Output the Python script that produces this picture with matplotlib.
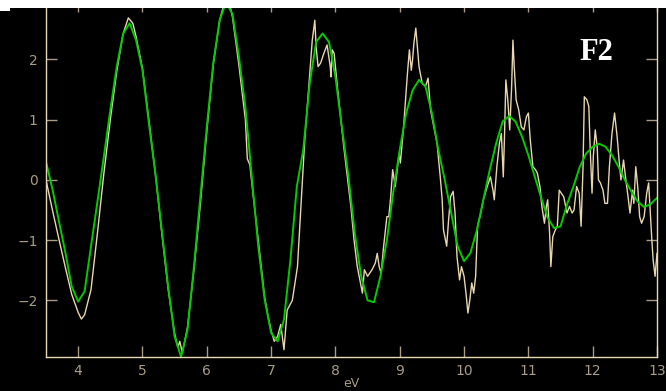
import numpy as np
import matplotlib
matplotlib.use("Agg")
import matplotlib.pyplot as plt
from matplotlib.patches import Rectangle

# fitted curve (green), read every 0.1 eV
fit_ev = np.round(np.arange(3.5, 13.01, 0.1), 2)
fit_val = [
    0.30, -0.15, -0.68, -1.20, -1.77, -2.02, -1.85, -1.10, -0.36, 0.39,
    1.16, 1.88, 2.43, 2.60, 2.32, 1.82, 0.94, 0.11, -0.83, -1.77,
    -2.60, -2.94, -2.49, -1.44, -0.28, 0.88, 1.94, 2.65, 2.95, 2.75,
    2.04, 1.21, 0.05, -1.10, -1.99, -2.54, -2.68, -2.32, -1.33, -0.11,
    0.50, 1.60, 2.29, 2.43, 2.29, 1.71, 0.88, 0.08, -0.88, -1.60,
    -2.00, -2.03, -1.60, -1.00, -0.20, 0.50, 1.11, 1.49, 1.66, 1.55,
    1.11, 0.50, 0.00, -0.55, -1.10, -1.35, -1.21, -0.83, -0.33, 0.17,
    0.61, 0.97, 1.06, 0.97, 0.72, 0.41, 0.05, -0.30, -0.63, -0.80,
    -0.77, -0.41, -0.11, 0.22, 0.44, 0.55, 0.60, 0.55, 0.41, 0.22,
    0.00, -0.19, -0.36, -0.45, -0.40, -0.30,
]

# measured data (tan)
data_ev = [
    3.50, 3.60, 3.70, 3.80, 3.90, 4.00, 4.05, 4.10, 4.20, 4.30,
    4.40, 4.50, 4.60, 4.70, 4.78, 4.85, 4.90, 5.00, 5.10, 5.20,
    5.30, 5.40, 5.50, 5.55, 5.58, 5.62, 5.70, 5.80, 5.90, 6.00,
    6.10, 6.20, 6.25, 6.30, 6.35, 6.40, 6.50, 6.60, 6.63, 6.67,
    6.70, 6.80, 6.90, 6.95, 7.00, 7.05, 7.10, 7.15, 7.20, 7.25,
    7.33, 7.41, 7.46, 7.52, 7.59, 7.64, 7.68, 7.70, 7.73, 7.77,
    7.82, 7.87, 7.92, 7.93, 7.95, 7.98, 8.03, 8.13, 8.24, 8.29,
    8.34, 8.42, 8.45, 8.50, 8.57, 8.62, 8.65, 8.68, 8.71, 8.75,
    8.80, 8.83, 8.86, 8.89, 8.93, 8.99, 9.01, 9.06, 9.12, 9.15,
    9.18, 9.20, 9.22, 9.25, 9.27, 9.30, 9.35, 9.40, 9.44, 9.48,
    9.53, 9.58, 9.63, 9.66, 9.68, 9.73, 9.76, 9.79, 9.83, 9.86,
    9.89, 9.93, 9.96, 10.00, 10.03, 10.06, 10.09, 10.12, 10.15, 10.18,
    10.21, 10.25, 10.30, 10.36, 10.41, 10.45, 10.47, 10.51, 10.55, 10.58,
    10.61, 10.63, 10.65, 10.68, 10.71, 10.74, 10.76, 10.78, 10.81, 10.85,
    10.89, 10.93, 10.97, 11.00, 11.03, 11.07, 11.11, 11.14, 11.18, 11.21,
    11.25, 11.28, 11.30, 11.33, 11.35, 11.38, 11.42, 11.45, 11.48, 11.55,
    11.60, 11.64, 11.68, 11.71, 11.75, 11.79, 11.82, 11.85, 11.87, 11.91,
    11.94, 11.96, 11.99, 12.01, 12.04, 12.07, 12.09, 12.12, 12.16, 12.19,
    12.23, 12.26, 12.30, 12.34, 12.38, 12.41, 12.44, 12.48, 12.51, 12.55,
    12.58, 12.62, 12.64, 12.67, 12.70, 12.73, 12.76, 12.80, 12.84, 12.87,
    12.89, 12.92, 12.94, 12.97, 13.00,
]
data_val = [
    0.00, -0.50, -0.98, -1.45, -1.90, -2.20, -2.31, -2.24, -1.82, -0.88,
    0.11, 1.00, 1.80, 2.43, 2.69, 2.60, 2.38, 1.85, 0.99, 0.11,
    -0.88, -1.82, -2.55, -2.78, -2.68, -2.87, -2.45, -1.50, -0.40, 0.80,
    1.90, 2.65, 2.85, 2.97, 2.95, 2.70, 1.90, 1.00, 0.35, 0.25,
    -0.05, -1.00, -1.95, -2.25, -2.50, -2.68, -2.60, -2.40, -2.82, -2.16,
    -2.00, -1.44, -0.50, 0.61, 1.60, 2.32, 2.65, 2.21, 1.88, 1.94,
    2.10, 2.24, 1.88, 1.71, 2.16, 2.10, 1.55, 0.55, -0.44, -1.00,
    -1.44, -1.88, -1.49, -1.60, -1.49, -1.38, -1.22, -1.44, -1.55, -1.10,
    -0.61, -0.61, -0.28, 0.17, -0.11, 0.44, 0.28, 0.88, 1.77, 2.16,
    1.82, 2.00, 2.27, 2.52, 2.27, 1.88, 1.60, 1.55, 1.69, 1.16,
    0.88, 0.61, 0.05, -0.33, -0.83, -1.10, -0.66, -0.28, -0.19, -0.55,
    -1.27, -1.66, -1.44, -1.60, -1.88, -2.21, -1.99, -1.71, -1.88, -1.60,
    -0.77, -0.60, -0.33, -0.11, 0.05, -0.17, -0.33, 0.22, 0.61, 0.77,
    0.05, 0.77, 1.66, 1.33, 0.83, 1.55, 2.32, 1.88, 1.33, 1.16,
    0.88, 0.83, 1.05, 1.11, 0.66, 0.22, 0.17, 0.11, -0.11, -0.44,
    -0.72, -0.44, -0.33, -0.88, -1.44, -0.94, -0.83, -0.77, -0.17, -0.28,
    -0.55, -0.44, -0.55, -0.50, -0.11, -0.22, -0.77, 0.22, 1.38, 1.33,
    1.22, 0.55, -0.22, 0.39, 0.83, 0.55, 0.00, -0.05, -0.17, -0.39,
    -0.39, 0.22, 0.77, 1.11, 0.72, 0.33, 0.00, 0.33, 0.05, -0.28,
    -0.55, -0.17, -0.39, 0.22, -0.11, -0.61, -0.72, -0.61, -0.22, -0.05,
    -0.44, -1.00, -1.33, -1.60, -1.22,
]

x_ticks = [4, 5, 6, 7, 8, 9, 10, 11, 12, 13]
y_ticks = [-2, -1, 0, 1, 2]

W, H = 666, 391
fig = plt.figure(figsize=(W / 100, H / 100), dpi=100, facecolor='black')
ax = fig.add_axes([46 / W, 34 / H, (657 - 46) / W, (390 - 34) / H])
ax.set_facecolor('black')

ax.plot(data_ev, data_val, color='#e8d6ae', lw=1.0)
ax.plot(fit_ev, fit_val, color='#00cc00', lw=1.4)

ax.set_xlim(3.5, 13.0)
ax.set_ylim(-2.94, 2.97)
ax.set_xticks(x_ticks)
ax.set_yticks(y_ticks)

for side in ['left', 'bottom', 'right', 'top']:
    ax.spines[side].set_color('#e8d8b8')
    ax.spines[side].set_linewidth(1.0)
ax.spines['top'].set_visible(False)

ax.tick_params(direction='in', length=8, width=1.0, color='#a89c86',
               labelcolor='#a89c86', labelsize=10,
               top=True, right=True, labeltop=False, labelright=False)
ax.tick_params(axis='x', pad=5)
ax.tick_params(axis='y', pad=6)
ax.set_xlabel('eV', color='#a89c86', fontsize=9, labelpad=-1)

# white strip at the top of the image
fig.patches.append(Rectangle((0, 1 - 8 / H), 1, 8 / H, transform=fig.transFigure,
                             facecolor='white', edgecolor='none', zorder=10))
fig.patches.append(Rectangle((0, 1 - 11 / H), 10 / W, 3 / H, transform=fig.transFigure,
                             facecolor='white', edgecolor='none', zorder=10))

fig.text(579 / W, 1 - 60 / H, 'F2', color='white', fontsize=22,
         fontweight='bold', family='Liberation Serif', ha='left', va='baseline')

fig.savefig('out.png', dpi=100, facecolor='black')
